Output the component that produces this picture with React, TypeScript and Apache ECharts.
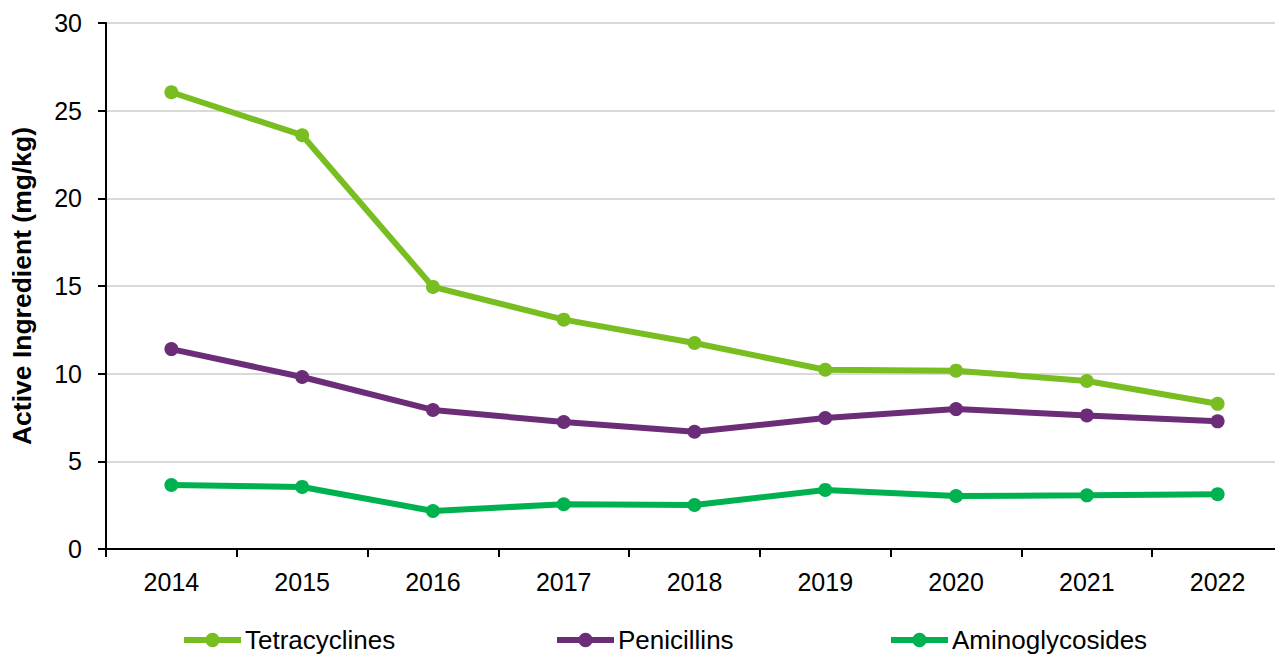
import React, { useEffect, useRef } from "react";
import * as echarts from "echarts";

const years = ["2014", "2015", "2016", "2017", "2018", "2019", "2020", "2021", "2022"];
const tetracyclines = [26.05, 23.6, 14.95, 13.08, 11.75, 10.22, 10.17, 9.58, 8.28];
const penicillins = [11.4, 9.81, 7.93, 7.24, 6.69, 7.47, 7.98, 7.62, 7.28];
const aminoglycosides = [3.65, 3.54, 2.17, 2.55, 2.51, 3.37, 3.02, 3.06, 3.12];

const seriesNames = ["Tetracyclines", "Penicillins", "Aminoglycosides"];
const colors = ["#78BE20", "#6C2D78", "#00B14F"];
const FONT = "Liberation Sans, Arial, sans-serif";

export default function App() {
  const ref = useRef<HTMLDivElement>(null);
  useEffect(() => {
    if (!ref.current) return;
    const chart = echarts.init(ref.current, null, { renderer: "svg" });
    const datas = [tetracyclines, penicillins, aminoglycosides];
    const legendLefts = [181, 554, 888];
    chart.setOption({
      animation: false,
      backgroundColor: "#ffffff",
      textStyle: { fontFamily: FONT },
      grid: { left: 106, right: 0, top: 23, bottom: 107, containLabel: false },
      legend: seriesNames.map((n, i) => ({
        data: [n],
        left: legendLefts[i],
        top: 627,
        itemWidth: 57,
        itemHeight: 18,
        itemGap: 4,
        padding: 0,
        lineStyle: { width: 6 },
        textStyle: { fontSize: 26, color: "#000", fontFamily: FONT, padding: [0, 0, 0, -1] },
      })),
      xAxis: {
        type: "category",
        data: years,
        boundaryGap: true,
        axisLine: { lineStyle: { color: "#000", width: 2 } },
        axisTick: { show: true, length: 8, lineStyle: { color: "#000", width: 2 } },
        axisLabel: { fontSize: 25, color: "#000", margin: 20, fontFamily: FONT },
        splitLine: { show: false },
      },
      yAxis: {
        type: "value",
        min: 0,
        max: 30,
        interval: 5,
        name: "Active Ingredient (mg/kg)",
        nameLocation: "middle",
        nameRotate: 90,
        nameGap: 71,
        nameTextStyle: { fontSize: 26.5, fontWeight: "bold", color: "#000", fontFamily: FONT },
        axisLine: { show: true, lineStyle: { color: "#000", width: 2 } },
        axisTick: { show: true, length: 8, lineStyle: { color: "#000", width: 2 } },
        axisLabel: { fontSize: 25, color: "#000", margin: 24, fontFamily: FONT },
        splitLine: { show: true, lineStyle: { color: "#D9D9D9", width: 2 } },
      },
      series: seriesNames.map((n, i) => ({
        name: n,
        type: "line",
        data: datas[i],
        symbol: "circle",
        symbolSize: 14,
        itemStyle: { color: colors[i] },
        lineStyle: { color: colors[i], width: 6 },
      })),
    });
    return () => chart.dispose();
  }, []);
  return (
    <div style={{ position: "absolute", left: 0, top: 0, width: 1275, height: 656, overflow: "hidden" }}>
      <div ref={ref} style={{ width: 1283, height: 656 }} />
    </div>
  );
}
